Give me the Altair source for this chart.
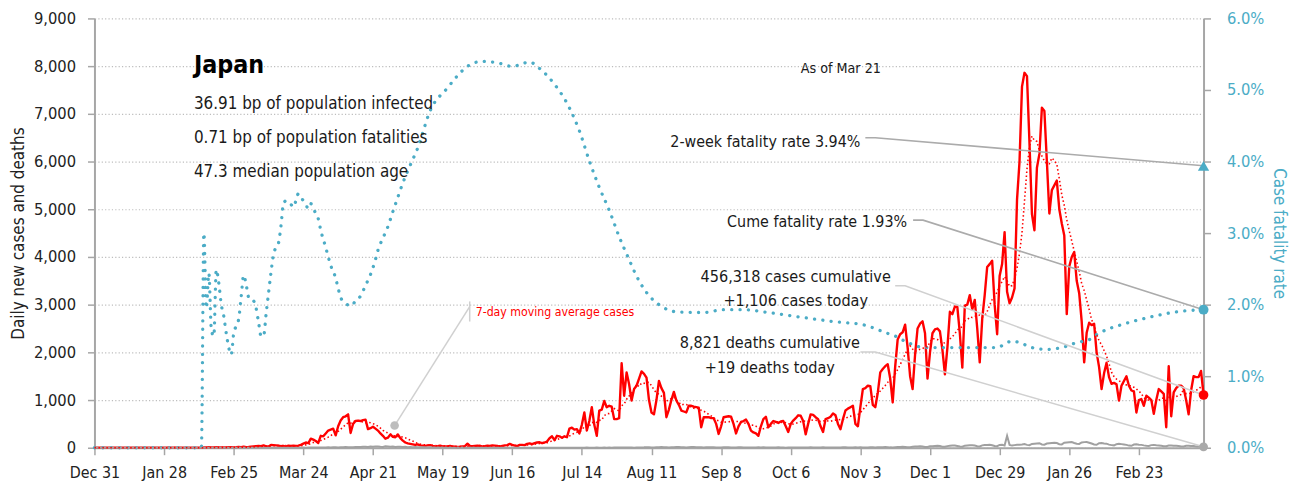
import altair as alt
import pandas as pd

# ---------------- data (day 0 = Dec 31, 2019; last day = Mar 21, 2021) ----------------
cases = [
    # d0-30
    0,0,0,0,0,0,0,0,0,0, 0,0,0,0,0,0,1,0,0,0, 0,0,0,1,1,0,0,2,1,1, 4,
    # d31-59
    2,3,0,0,0,0,2,1,0,0, 1,0,0,5,8,10,5,8,11,6, 8,5,8,12,14,9,11,15,12,
    # d60-80
    20,12,15,23,30,35,40,35,50,30, 25,60,55,50,45,35,40,20,45,40, 45,
    # d81-140
    40,45,60,85,110,95,190,170,140,100, 250,240,300,360,380,400,260,450,570,640,
    660,700,310,500,560,570,560,580,590,390, 410,440,400,360,300,250,190,210,280,230,
    220,280,200,150,110,90,80,70,60,70, 50,45,40,50,55,40,30,35,45,30,
    # d141-181
    25,30,40,25,20,15,20,30,35,85, 40,35,40,45,40,30,35,45,40,50,
    45,40,25,40,50,55,80,60,45,35, 60,60,55,80,90,75,95,110,115,95, 110,
    # d182-211
    130,200,240,160,250,240,210,240,220,400, 420,380,390,300,480,740,360,560,850,480,
    250,780,800,980,850,880,860,600,600,620,
    # d212-260
    1770,1090,1580,1330,990,1230,1300,1450,1600,1550, 1470,1000,740,700,1000,1400,1250,1150,640,800,
    1000,1170,990,900,780,760,740,880,880,860, 850,840,430,640,640,640,620,620,500,290,
    450,640,650,660,650,500,300,450,540,
    # d261-313
    560,590,500,360,320,300,250,450,600,650, 430,500,560,540,520,550,560,450,330,500,
    570,620,680,670,560,280,500,700,690,640, 600,450,330,600,620,650,720,680,500,390,
    600,780,820,850,880,500,450,850,1230,1250, 1300,1290,900,
    # d314-371
    850,1150,1580,1650,1710,1750,1450,950,1700,2270, 2380,2420,2580,2100,1500,1230,1950,2500,2600,2650,
    2400,1450,2000,2400,2480,2500,2440,2050,1540,2100, 2850,2800,2960,2950,2400,1680,2980,3000,3200,2900,
    3100,2500,1790,2700,3200,3790,3850,3920,3000,2380, 3600,3850,4520,3270,3030,3150,3340,5200,
    # d372-446
    6000,7570,7860,7790,6400,4900,4560,5870,6160,7130, 7060,6000,4910,5400,5500,5600,5000,4700,4450,2800,
    3800,4000,4100,3500,3240,2650,1790,2410,2620,2570, 2600,2000,1690,1230,1560,1780,1480,1340,1360,1330,
    990,1300,1400,1500,1300,1200,1180,740,1000,1020, 880,1090,1050,1000,710,1000,1230,1180,1130,430,
    1710,660,1160,1250,1300,1300,1250,1000,700,1200, 1500,1480,1480,1610,1106,
]

deaths = [
    # d0-43
    0,0,0,0,0,0,0,0,0,0, 0,0,0,0,0,0,0,0,0,0, 0,0,0,0,0,0,0,0,0,0,
    0,0,0,0,0,0,0,0,0,0, 0,0,0,0,
    # d44-80
    1,0,0,0,0,0,1,0,1,0, 0,1,0,1,0,0,0,1,1,0, 0,1,1,0,0,2,1,1,2,0, 2,1,0,1,0,1,2,
    # d81-140
    2,1,2,3,2,5,3,3,4,5, 6,4,7,8,5,9,10,6,12,10, 14,9,13,12,17,15,14,22,20,16,
    24,19,28,25,20,18,30,26,22,24, 18,23,20,15,22,12,14,10,16,12, 8,9,11,6,8,5,7,4,6,3,
    # d141-211
    3,2,5,2,1,4,2,3,1,2, 1,3,0,2,1,1,2,0,1,1, 0,2,1,0,1,0,1,1,0,2, 0,1,0,1,1,0,0,1,0,1,
    2,0,1,0,1,0,0,1,0,1, 1,0,2,1,0,2,1,3,2,1, 2,3,1,2,4,2,3,2,5,3, 4,
    # d212-313
    3,5,4,6,4,2,5,7,6,8, 12,9,6,4,8,10,14,11,13,5, 9,12,15,16,13,10,7,12,14,16,
    13,11,8,6,10,12,11,9,7,4, 6,9,8,10,7,5,3,8,9,7, 6,5,4,3,7,8,6,9,5,3,
    5,7,6,8,6,4,2,6,5,7, 6,5,3,4,7,6,8,5,4,3, 6,8,5,7,6,4,3,7,6,9,
    8,5,4,3,8,7,9,6,5,4, 9,11,
    # d314-371
    6,10,12,11,14,13,8, 7,12,15,18,20,16,11, 10,21,25,28,31,24,17, 15,30,33,38,42,35,22,
    20,34,40,45,48,38,25, 22,44,48,52,51,46,30, 28,50,56,60,64,52,36, 32,58,63,48,250,60,45,
    55,64,
    # d372-446
    65,70,78,60,55,80,85, 90,95,70,64,88,95,100, 105,98,75,70,104,110,115, 120,100,85,80,112,118,120,
    105,88,70,62,95,100,90, 85,65,55,50,75,82,76, 70,60,45,40,68,72,65, 60,50,42,38,55,60,52,
    48,40,32,30,45,48,42, 40,35,28,25,40,43,38, 35,28,30,25,19,
]

# case fatality rate (%), read at these day indexes
cfr_day = [0,43,44,45,46,47,48,49,50,51,52,53,54,55,56,57,58,59,60,61,62,63,64,65,66,67,68,69,70,
           71,72,73,74,75,76,77,78,79,80,81,82,83,85,86,87,89,90,91,93,94,95,97,98,99,101,103,105,
           107,109,111,113,114,116,118,120,122,124,127,130,135,142,146,150,156,162,168,175,179,185,
           191,195,199,203,207,211,215,218,222,227,234,245,253,261,271,285,298,309,318,322,327,334,
           347,358,363,367,369,372,377,383,390,395,400,403,407,413,418,425,431,438,446]
cfr_pct = [0,0,3.0,1.95,2.44,1.65,1.56,2.49,2.3,2.0,1.84,1.6,1.4,1.3,1.6,1.7,1.8,2.11,2.41,2.28,2.1,
           2.06,2.05,1.95,1.75,1.56,1.56,1.86,2.16,2.45,2.7,2.8,2.86,3.1,3.41,3.45,3.41,3.4,3.36,
           3.45,3.55,3.5,3.4,3.34,3.41,3.27,3.2,3.04,2.8,2.67,2.55,2.37,2.23,2.1,2.02,1.98,2.05,
           2.12,2.27,2.42,2.63,2.76,2.93,3.09,3.3,3.5,3.7,3.95,4.19,4.71,5.03,5.2,5.33,5.4,5.38,
           5.33,5.39,5.3,5.08,4.75,4.43,4.01,3.64,3.32,2.95,2.63,2.4,2.17,2.0,1.9,1.89,1.93,1.93,
           1.89,1.82,1.76,1.72,1.61,1.56,1.47,1.40,1.40,1.40,1.40,1.47,1.49,1.47,1.40,1.375,1.41,
           1.47,1.51,1.58,1.65,1.72,1.77,1.83,1.875,1.91,1.93]

tick_days = [0, 28, 56, 84, 112, 140, 168, 196, 224, 252, 280, 308, 336, 364, 392, 420]
tick_labels = ["Dec 31", "Jan 28", "Feb 25", "Mar 24", "Apr 21", "May 19", "Jun 16", "Jul 14",
               "Aug 11", "Sep 8", "Oct 6", "Nov 3", "Dec 1", "Dec 29", "Jan 26", "Feb 23"]

two_week_rate = 3.94
cume_rate = 1.93

assert len(cases) == 447, len(cases)
assert len(deaths) == 447, len(deaths)
assert len(cfr_day) == len(cfr_pct), (len(cfr_day), len(cfr_pct))

# ---------------- styles ----------------
FONT = "Liberation Sans Narrow, DejaVu Sans Condensed, sans-serif"
RED = "#FF0000"
TEAL = "#4BACC6"
AXIS_GRAY = "#A6A6A6"
LEAD_DARK = "#ABABAB"
LEAD_LIGHT = "#D0D0D0"
LAST = len(cases) - 1
PCT_TO_LEFT = 9000 / 6.0

df = pd.DataFrame({"d": list(range(len(cases))), "cases": cases, "deaths": deaths})
cfr_df = pd.DataFrame({"d": cfr_day, "pct": cfr_pct})

xscale = alt.Scale(domain=[0, LAST], nice=False, zero=False)
lscale = alt.Scale(domain=[0, 9000], nice=False)
rscale = alt.Scale(domain=[0, 6], nice=False)

# x tick labels via a conditional expression built from the two lists
x_label_expr = " : ".join(
    f"datum.value == {v} ? '{lab}'" for v, lab in zip(tick_days, tick_labels)
) + " : ''"

x_axis = alt.Axis(orient="bottom", values=tick_days, labelExpr=x_label_expr,
                  title=None, grid=False, domainColor=AXIS_GRAY, domainWidth=2, tickColor=AXIS_GRAY,
                  tickWidth=1.5, tickSize=7, labelFontSize=16, labelColor="#222222", labelPadding=10,
                  labelFont=FONT, labelOverlap=False, labelFlush=False)
left_axis = alt.Axis(orient="left", values=list(range(0, 9001, 1000)), format=",.0f",
                     title="Daily new cases and deaths",
                     grid=True, gridDash=[1.2, 2.2], gridColor="#BDBDBD", gridWidth=1.2,
                     domainColor=AXIS_GRAY, domainWidth=2, tickColor=AXIS_GRAY, tickWidth=1.5, tickSize=7,
                     labelFontSize=16.5, labelFont=FONT, labelColor="#222222", labelPadding=12,
                     titleFont=FONT, titleFontSize=17, titleFontWeight="normal", titleColor="#222222",
                     titlePadding=6)
right_axis = alt.Axis(orient="right", values=[0, 1, 2, 3, 4, 5, 6],
                      labelExpr="format(datum.value, '.1f') + '%'", title="Case fatality rate",
                      grid=False, domainColor=AXIS_GRAY, domainWidth=2, tickColor=AXIS_GRAY, tickWidth=1.5,
                      tickSize=7, labelFontSize=16.5, labelFont=FONT, labelColor=TEAL, labelPadding=16,
                      titleFont=FONT, titleFontSize=17, titleFontWeight="normal", titleColor=TEAL,
                      titleAngle=90, titlePadding=6)


def X(f="x"):
    # every layer carries the identical x axis so that the shared axis merges cleanly
    return alt.X(f"{f}:Q", scale=xscale, axis=x_axis)


base = alt.Chart(df)

cases_line = base.mark_line(color=RED, strokeWidth=2.4, strokeJoin="round").encode(
    x=X("d"), y=alt.Y("cases:Q", scale=lscale, axis=left_axis))
deaths_line = base.mark_line(color="#A0A0A0", strokeWidth=2).encode(
    x=X("d"), y=alt.Y("deaths:Q", scale=lscale, axis=None))
ma_line = base.transform_window(
    ma="mean(cases)", frame=[-6, 0], sort=[alt.SortField("d")]
).mark_line(color=RED, strokeWidth=1.6, strokeDash=[1.5, 2.5]).encode(
    x=X("d"), y=alt.Y("ma:Q", scale=lscale, axis=None))

# leader lines (data coordinates; percentages converted to left scale)
lead_dark = pd.DataFrame({
    "seg": ["a", "a", "a", "b", "b", "b"],
    "o": [0, 1, 2, 0, 1, 2],
    "x": [310, 314, LAST, 329.2, 333.2, LAST],
    "y": [6500, 6500, two_week_rate * PCT_TO_LEFT, 4771, 4771, cume_rate * PCT_TO_LEFT],
})
lead_light = pd.DataFrame({
    "seg": ["c", "c", "c", "e", "e", "e", "m", "m", "v", "v"],
    "o": [0, 1, 2, 0, 1, 2, 0, 1, 0, 1],
    "x": [322, 326, LAST, 308, 314, LAST, 150.9, 120.7, 150.9, 150.9],
    "y": [3396, 3396, cases[-1], 2006, 2006, deaths[-1], 2960, 465, 3068, 2646],
})
leaders_dark = alt.Chart(lead_dark).mark_line(color=LEAD_DARK, strokeWidth=1.6).encode(
    x=X(), y=alt.Y("y:Q", scale=lscale, axis=None), detail="seg:N", order="o:Q")
leaders_light = alt.Chart(lead_light).mark_line(color=LEAD_LIGHT, strokeWidth=1.5).encode(
    x=X(), y=alt.Y("y:Q", scale=lscale, axis=None), detail="seg:N", order="o:Q")


def points(rows, color, size, shape="circle", scale=lscale):
    return alt.Chart(pd.DataFrame(rows)).mark_point(
        filled=True, opacity=1, color=color, size=size, shape=shape).encode(
        x=X(), y=alt.Y("y:Q", scale=scale, axis=None))


ma_dot = points({"x": [120.7], "y": [465]}, "#BDBDBD", 75)
red_dot = points({"x": [LAST], "y": [cases[-1]]}, RED, 95)
gray_dot = points({"x": [LAST], "y": [deaths[-1]]}, "#AAAAAA", 80)
tri = points({"x": [LAST], "y": [two_week_rate]}, TEAL, 130, "triangle-up", rscale)
circ = points({"x": [LAST], "y": [cume_rate]}, TEAL, 100, "circle", rscale)


def texts(rows, align, size, color="#1a1a1a", weight="normal"):
    return alt.Chart(pd.DataFrame(rows)).mark_text(
        align=align, baseline="alphabetic", font=FONT, fontSize=size, fontWeight=weight, color=color
    ).encode(x=X(), y=alt.Y("y:Q", scale=lscale, axis=None), text="t:N")


title_txt = texts({"x": [40], "y": [7854], "t": ["Japan"]}, "left", 25, "#000000", "bold")
stats_txt = texts({"x": [40, 40, 40], "y": [7104, 6385, 5667],
                   "t": ["36.91 bp of population infected", "0.71 bp of population fatalities",
                         "47.3 median population age"]}, "left", 17)
asof_txt = texts({"x": [284], "y": [7860], "t": ["As of Mar 21"]}, "left", 14.3)
rate_txt = texts({"x": [308, 326.8], "y": [6298, 4625],
                  "t": [f"2-week fatality rate {two_week_rate:.2f}%", f"Cume fatality rate {cume_rate:.2f}%"]},
                 "right", 16)
cum_txt = texts({"x": [282, 282, 271.6, 271.6], "y": [3485, 2965, 2098, 1577],
                 "t": ["456,318 cases cumulative", "+1,106 cases today",
                       "8,821 deaths cumulative", "+19 deaths today"]}, "center", 16.2)
ma_txt = texts({"x": [153.3], "y": [2756], "t": ["7-day moving average cases"]}, "left", 12.3, RED)

cfr_line = alt.Chart(cfr_df).mark_line(
    color=TEAL, strokeWidth=3.3, strokeDash=[0.1, 8.3], strokeCap="round", interpolate="monotone"
).encode(x=X("d"), y=alt.Y("pct:Q", scale=rscale, axis=right_axis))

chart = alt.layer(
    cases_line, cfr_line, deaths_line, ma_line, leaders_dark, leaders_light, ma_dot, gray_dot,
    title_txt, stats_txt, asof_txt, rate_txt, cum_txt, ma_txt, red_dot, tri, circ,
).resolve_scale(y="independent").properties(
    width=1116, height=432,
    autosize=alt.AutoSizeParams(type="none"),
    padding={"left": 87, "top": 9, "right": 86, "bottom": 37},
    background="white",
).configure_view(stroke=None)

chart.save("out.html", embed_options={"renderer": "svg", "actions": False})
